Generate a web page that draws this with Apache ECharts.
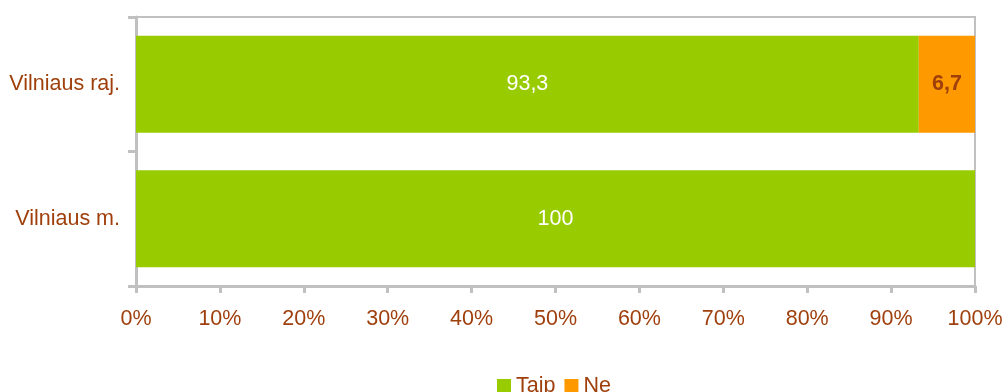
<!DOCTYPE html>
<html>
<head>
<meta charset="utf-8">
<script src="https://cdn.jsdelivr.net/npm/echarts@6/dist/echarts.min.js"></script>
<style>
  html, body { margin: 0; padding: 0; background: #ffffff; }
  #chart { width: 1003px; height: 392px; }
</style>
</head>
<body>
<div id="chart"></div>
<script>
// Categories listed bottom-to-top (ECharts category y axis starts at the bottom)
const categories = ['Vilniaus m.', 'Vilniaus raj.'];
const taipValues = [100, 93.3];
const neValues = [0, 6.7];
const xTickLabels = ['0%', '10%', '20%', '30%', '40%', '50%', '60%', '70%', '80%', '90%', '100%'];

const TEXT = '#9f3f0c';
const AXIS = '#c0c0c0';
const FONT = '"Liberation Sans", Arial, sans-serif';
const FS = 21.5;

const fmt = v => String(v).replace('.', ',');

const chart = echarts.init(document.getElementById('chart'), null, { renderer: 'canvas' });
chart.setOption({
  animation: false,
  textStyle: { fontFamily: FONT },
  grid: {
    left: 136, right: 28, top: 17, bottom: 106,
    containLabel: false, outerBoundsMode: 'none',
    show: true, borderColor: AXIS, borderWidth: 2, backgroundColor: 'transparent'
  },
  legend: {
    data: ['Taip', 'Ne'],
    left: 497, top: 375, padding: 0,
    itemWidth: 14, itemHeight: 14, itemGap: 9,
    icon: 'rect',
    textStyle: { color: TEXT, fontSize: FS, fontFamily: FONT }
  },
  xAxis: {
    type: 'value', min: 0, max: 100, interval: 10,
    axisLine: { show: true, lineStyle: { color: AXIS, width: 3 } },
    axisTick: { show: true, length: 7, lineStyle: { color: AXIS, width: 3 } },
    splitLine: { show: false },
    axisLabel: {
      color: TEXT, fontSize: FS, fontFamily: FONT, margin: 22,
      formatter: v => xTickLabels[Math.round(v / 10)]
    }
  },
  yAxis: {
    type: 'category', data: categories,
    axisLine: { show: true, lineStyle: { color: AXIS, width: 3 } },
    axisTick: { show: true, length: 8, lineStyle: { color: AXIS, width: 3 } },
    axisLabel: { color: TEXT, fontSize: FS, fontFamily: FONT, margin: 16 }
  },
  series: [
    {
      name: 'Taip', type: 'bar', stack: 'total', barWidth: 97,
      itemStyle: { color: '#99cc00' },
      label: {
        show: true, position: 'inside', color: '#ffffff', fontSize: FS, fontFamily: FONT,
        formatter: p => fmt(p.value)
      },
      data: taipValues
    },
    {
      name: 'Ne', type: 'bar', stack: 'total', barWidth: 97,
      itemStyle: { color: '#ff9900' },
      label: {
        show: true, position: 'inside', color: TEXT, fontSize: FS, fontWeight: 'bold', fontFamily: FONT,
        formatter: p => p.value > 0 ? fmt(p.value) : ''
      },
      data: neValues
    }
  ]
});
</script>
</body>
</html>
